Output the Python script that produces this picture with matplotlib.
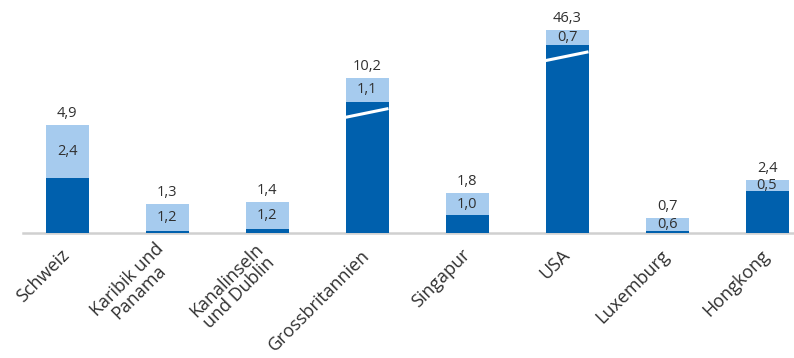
import math
import matplotlib
matplotlib.use("Agg")
import matplotlib.pyplot as plt
import numpy as np

plt.rcParams['font.family'] = ['Open Sans', 'DejaVu Sans']

countries = ["Schweiz", "Karibik und\nPanama", "Kanalinseln\nund Dublin", "Grossbritannien",
             "Singapur", "USA", "Luxemburg", "Hongkong"]
totals = [4.9, 1.3, 1.4, 10.2, 1.8, 46.3, 0.7, 2.4]
upper = [2.4, 1.2, 1.2, 1.1, 1.0, 0.7, 0.6, 0.5]

DARK = "#0060AD"
LIGHT = "#A6CBEE"
TEXT = "#303030"
BREAK_FROM = 5.0


def shown(v):
    # axis break: values above BREAK_FROM are compressed
    if v <= BREAK_FROM:
        return v
    return BREAK_FROM + 1.6 * math.log(v / BREAK_FROM)


def fmt(v):
    return f"{v:.1f}".replace(".", ",")


lower = [t - u for t, u in zip(totals, upper)]
lower_shown = [shown(v) for v in lower]
x = np.arange(len(countries))
w = 0.43

fig = plt.figure(figsize=(7.94, 3.58), dpi=100)
ax = fig.add_axes([23 / 794, 125 / 358, 771 / 794, 233 / 358])

ax.bar(x, lower_shown, w, color=DARK, zorder=2)
ax.bar(x, upper, w, bottom=lower_shown, color=LIGHT, zorder=2)

for i in range(len(x)):
    top = lower_shown[i] + upper[i]
    ax.text(x[i], top + 0.18, fmt(totals[i]), ha="center", va="bottom",
            fontsize=10.5, color=TEXT)
    ax.text(x[i], lower_shown[i] + upper[i] / 2, fmt(upper[i]), ha="center",
            va="center", fontsize=10.5, color=TEXT, zorder=3)
    if lower[i] > BREAK_FROM:
        yb = lower_shown[i] - 0.5
        ax.plot([x[i] - w / 2, x[i] + w / 2], [yb - 0.2, yb + 0.2],
                color="white", lw=2.2, zorder=3, solid_capstyle="butt")

ax.set_xlim(-0.44, 7.27)
ax.set_ylim(0, 233 / 22)
ax.set_yticks([])
for s in ["top", "right", "left"]:
    ax.spines[s].set_visible(False)
ax.spines["bottom"].set_color("#D0D0D0")
ax.spines["bottom"].set_linewidth(1.8)
ax.spines["bottom"].set_zorder(1)

ax.set_xticks(x)
ax.set_xticklabels(countries, rotation=45, ha="right", va="center",
                   rotation_mode="anchor", multialignment="center",
                   fontsize=13, color=TEXT, linespacing=0.95)
ax.tick_params(axis="x", length=0, pad=14)

fig.savefig("out.png", dpi=100)
